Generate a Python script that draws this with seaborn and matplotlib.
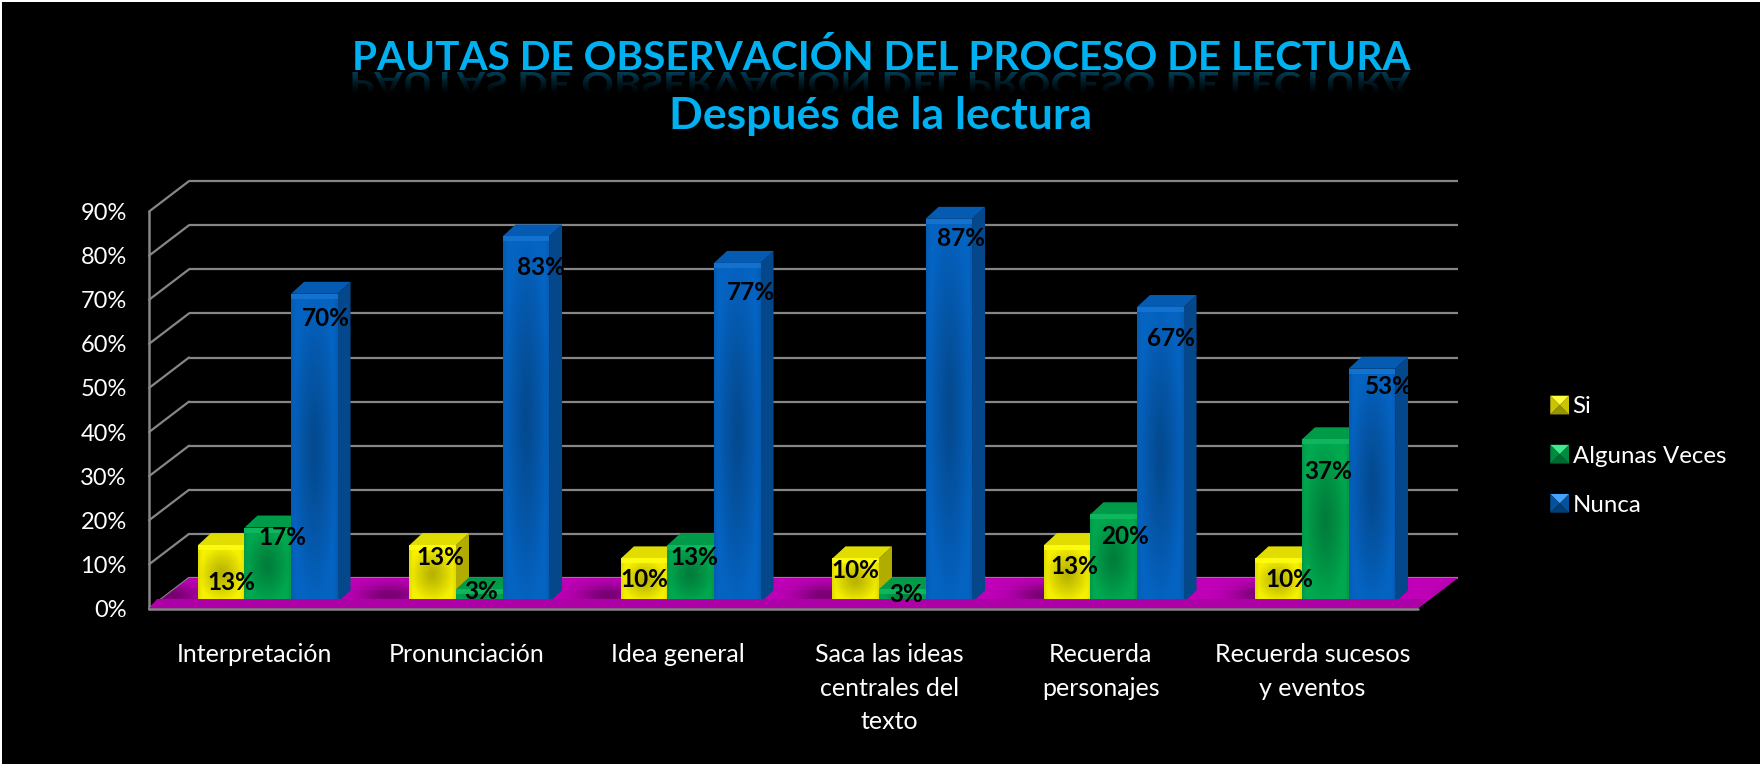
import numpy as np
import pandas as pd
import matplotlib
matplotlib.use("Agg")
import matplotlib.pyplot as plt
import seaborn as sns
from matplotlib.patches import Polygon, PathPatch
from matplotlib.transforms import Affine2D, IdentityTransform
from matplotlib.textpath import TextPath
from matplotlib.font_manager import FontProperties
from matplotlib.legend_handler import HandlerBase
from matplotlib.colors import to_rgb

categories = ["Interpretación", "Pronunciación", "Idea general",
              "Saca las ideas\ncentrales del\ntexto", "Recuerda\npersonajes",
              "Recuerda sucesos\ny eventos"]
si = [13, 13, 10, 10, 13, 10]
algunas = [17, 3, 13, 3, 20, 37]
nunca = [70, 83, 77, 87, 67, 53]
series_names = ["Si", "Algunas Veces", "Nunca"]
y_ticks = [0, 10, 20, 30, 40, 50, 60, 70, 80, 90]
title_1 = "PAUTAS DE OBSERVACIÓN DEL PROCESO DE LECTURA"
title_2 = "Después de la lectura"

COLORS = ["#F6F000", "#00A84F", "#0563C1"]
GRID = "#868686"
FLOOR = "#C000B8"
TITLE = "#00B0F0"
W, H = 1760, 764

df = pd.DataFrame({"cat": np.repeat(categories, 3),
                   "serie": series_names * 6,
                   "v": np.ravel(np.column_stack([si, algunas, nunca]))})

sns.set_theme(style="dark", rc={"figure.facecolor": "black", "axes.facecolor": "none"})
plt.rcParams["font.family"] = ["Lato", "DejaVu Sans"]

fig = plt.figure(figsize=(W / 100, H / 100), dpi=100, facecolor="black")
BASE = 602.5
SCALE = 4.41
LEFT, RIGHT = 162, 1431
ax = fig.add_axes([LEFT / W, 1 - BASE / H, (RIGHT - LEFT) / W, 90 * SCALE / H])
sns.barplot(data=df, x="cat", y="v", hue="serie", hue_order=series_names,
            order=categories, palette=COLORS, width=0.66, gap=0, dodge=True,
            saturation=1, legend=False, ax=ax, errorbar=None)
ax.set_xlim(-0.5, 5.5)
ax.set_ylim(0, 90)
ax.set_autoscale_on(False)
ax.patch.set_visible(False)
for s in ax.spines.values():
    s.set_visible(False)
ax.grid(False)
ax.set_xlabel("")
ax.set_ylabel("")

FRONT = (-13, -6)     # px offset (x right, y up)
BACK = (27, 24.5)
DEPTH = (13, 12)
SINK = 3.5            # the floor's front strip hides this much of each bar's foot


def gradient(poly, arr, z):
    """Fill a display-space polygon with an RGB(A) array, clipped to it."""
    p = np.asarray(poly)
    x0, y0 = p.min(axis=0)
    x1, y1 = p.max(axis=0)
    im = ax.imshow(arr, extent=(x0, x1, y0, y1), origin="lower", aspect="auto",
                   transform=IdentityTransform(), zorder=z, interpolation="bilinear")
    clip = Polygon(p, closed=True, transform=IdentityTransform())
    im.set_clip_box(fig.bbox)
    im.set_clip_path(clip)
    return im


def shade(n, color, mn=0.74):
    """Bevelled fill: bright edges, darker core."""
    h, w = n
    yy, xx = np.mgrid[-1:1:h * 1j, -1:1:w * 1j]
    r = np.clip(np.sqrt(xx ** 2 + yy ** 2), 0, 1)
    f = mn + (1 - mn) * r ** 1.2
    edge = np.clip((np.abs(xx) - 0.88) / 0.12, 0, 1)
    arr = np.ones((h, w, 3)) * np.array(to_rgb(color))
    arr = arr * f[..., None]
    arr = arr * (1 - 0.08 * edge[..., None])
    return np.clip(arr, 0, 1)


def disp(x, y, off=(0, 0)):
    px = ax.transData.transform((x, y))
    return (px[0] + off[0], px[1] + off[1])


# floor
fl = [disp(-0.5, 0, FRONT), disp(5.5, 0, FRONT), disp(5.5, 0, BACK), disp(-0.5, 0, BACK)]
fh, fw = 40, 1300
u = np.linspace(-0.5, 5.5, fw)
dist = ((u + 0.40 + 0.5) % 1.0) - 0.5
v_ = np.linspace(0, 1, fh)[:, None]
f = 1 - 0.38 * np.exp(-(dist / 0.13) ** 2)[None, :] * np.exp(-((v_ - 0.45) / 0.35) ** 2)
floor_arr = np.ones((fh, fw, 3)) * np.array(to_rgb(FLOOR)) * f[..., None]
gradient(fl, np.clip(floor_arr, 0, 1), 1.5)

# grid and walls
for t in y_ticks:
    a, b = disp(-0.5, t, BACK), disp(5.5, t, BACK)
    c = disp(-0.5, t, FRONT)
    ax.plot([a[0], b[0]], [a[1], b[1]], transform=IdentityTransform(), color=GRID,
            lw=1.6, clip_on=False, zorder=1, solid_capstyle="butt")
    ax.plot([c[0], a[0]], [c[1], a[1]], transform=IdentityTransform(), color=GRID,
            lw=1.6, clip_on=False, zorder=1, solid_capstyle="round")
p, q = disp(-0.5, 0, FRONT), disp(-0.5, 90, FRONT)
ax.plot([p[0], q[0]], [p[1], q[1]], transform=IdentityTransform(), color=GRID, lw=1.8,
        clip_on=False, zorder=1)
r = disp(5.5, 0, FRONT)
ax.plot([p[0], r[0]], [p[1], r[1]], transform=IdentityTransform(), color=GRID, lw=1.8,
        clip_on=False, zorder=9)

# 3-D faces on seaborn's bars
for i, (cont, col) in enumerate(zip(ax.containers, COLORS)):
    z = 3 + i
    rgb = np.array(to_rgb(col))
    for bar in cont:
        x0, x1 = bar.get_x(), bar.get_x() + bar.get_width()
        y1 = bar.get_height()
        a, b = disp(x0, 0), disp(x1, 0)
        c, d = disp(x1, y1), disp(x0, y1)
        bar.set_zorder(z)
        bar.set_linewidth(0)
        side = [b, c, (c[0] + DEPTH[0], c[1] + DEPTH[1]), (b[0] + DEPTH[0], b[1] + DEPTH[1])]
        top = [d, c, (c[0] + DEPTH[0], c[1] + DEPTH[1]), (d[0] + DEPTH[0], d[1] + DEPTH[1])]
        ax.add_patch(Polygon(side, closed=True, fc=rgb * 0.72, ec="none", clip_on=False,
                             transform=IdentityTransform(), zorder=z))
        ax.add_patch(Polygon(top, closed=True, fc=rgb * 0.92, ec="none", clip_on=False,
                             transform=IdentityTransform(), zorder=z))
        gh = max(int(c[1] - b[1]) // 2, 4)
        gradient([a, b, c, d], shade((gh, 24), col), z + 0.1)
        ax.add_patch(Polygon([d, c, (c[0], c[1] - 5), (d[0], d[1] - 5)], closed=True,
                             fc=np.clip(rgb + 0.08, 0, 1), ec="none", alpha=0.75,
                             transform=IdentityTransform(), zorder=z + 0.2))

# front strip of the floor, in front of the bars' feet
strip = [disp(-0.5, 0, FRONT), disp(5.5, 0, FRONT),
         disp(5.5, 0, (FRONT[0] + 8, SINK)), disp(-0.5, 0, (FRONT[0] + 8, SINK))]
ax.add_patch(Polygon(strip, closed=True, fc=np.array(to_rgb(FLOOR)) * 0.9, ec="none",
                     clip_on=False, transform=IdentityTransform(), zorder=8))

# data labels (hand-placed in the source chart): dx, dy in px from each bar's top centre
offsets = [
    [(10, 41), (8, 16), (0.4, 25), (0, 16), (7, 25), (11, 25)],
    [(14.5, 13.6), (2, 6), (4, 16), (3.5, 9), (11, 25.7), (3, 35.6)],
    [(11.6, 28.5), (14.7, 35), (13.4, 32.6), (12, 22.7), (10.7, 34.5), (17, 21.7)],
]
for i, cont in enumerate(ax.containers):
    for j, bar in enumerate(cont):
        dx, dy = offsets[i][j]
        ax.annotate(f"{bar.get_height():.0f}%",
                    xy=(bar.get_x() + bar.get_width() / 2, bar.get_height()),
                    xytext=(dx, -dy + SINK), textcoords="offset pixels", ha="center",
                    va="center", fontsize=17.5, fontweight="bold", color="black", zorder=30,
                    annotation_clip=False)

# ticks
ax.set_yticks(y_ticks)
ax.set_yticklabels([f"{t}%" for t in y_ticks])
ax.tick_params(axis="both", length=0, colors="white")
ax.tick_params(axis="y", pad=16, labelsize=17)
ax.tick_params(axis="x", pad=29, labelsize=18)
for l in ax.get_yticklabels():
    l.set_transform(l.get_transform() + Affine2D().translate(FRONT[0], FRONT[1]))
for l in ax.get_xticklabels():
    l.set_transform(l.get_transform() + Affine2D().translate(FRONT[0], 0))
    l.set_linespacing(1.57)
    l.set_ha("center")


# legend
class Bevel(HandlerBase):
    def create_artists(self, legend, orig, xd, yd, w, h, fs, trans):
        col = np.array(to_rgb(orig.get_facecolor()))
        s = 13.5
        x0, y0 = w - s, (h - s) / 2
        cx, cy = x0 + s / 2, y0 + s / 2
        pts = [(x0, y0), (x0 + s, y0), (x0 + s, y0 + s), (x0, y0 + s)]
        fac = [0.62, 0.82, np.nan, 0.82]
        out = []
        for k in range(4):
            c_ = np.clip(col + 0.25, 0, 1) if k == 2 else col * fac[k]
            out.append(Polygon([pts[k], pts[(k + 1) % 4], (cx, cy)], closed=True, fc=c_,
                               ec="none", transform=trans))
        return out


handles = [plt.Rectangle((0, 0), 1, 1, fc=c) for c in COLORS]
leg = ax.legend(handles, series_names, frameon=False, loc="upper left",
                bbox_to_anchor=(1545 / W, 1 - 396.5 / H), bbox_transform=fig.transFigure,
                handler_map={plt.Rectangle: Bevel()}, handlelength=1.0, handletextpad=0.15,
                labelspacing=1.17, borderpad=0, borderaxespad=0, fontsize=17.3,
                labelcolor="white")
leg.set_zorder(40)

# titles
fig.text(881 / W, 1 - 70 / H, title_1, ha="center", va="baseline", color=TITLE,
         fontsize=29.2, fontweight="bold", zorder=50)
fig.text(881 / W, 1 - 129 / H, title_2, ha="center", va="baseline", color=TITLE,
         fontsize=32, fontweight="bold", zorder=50)

# title reflection (decorative)
fp = FontProperties(family="Lato", weight="bold", size=29.2 * 100 / 72)
tp = TextPath((0, 0), title_1, prop=fp)
ext = tp.get_extents()
tr = (Affine2D().translate(-(ext.x0 + ext.x1) / 2, 0).scale(1, -0.8)
      .translate(881, H - 72))
tr_patch = PathPatch(tp, transform=tr, fc="none", ec="none")
fig.add_artist(tr_patch)
g = np.zeros((30, 4, 4))
g[..., :3] = to_rgb(TITLE)
g[..., 3] = np.linspace(0, 0.45, 30)[:, None] ** 1.3
rim = ax.imshow(g, extent=(300, 1460, H - 95, H - 72), origin="lower", aspect="auto",
                transform=IdentityTransform(), zorder=49)
rim.set_clip_box(fig.bbox)
rim.set_clip_path(tr_patch)

fig.add_artist(plt.Rectangle((0, 1 - 2 / H), 1, 2 / H, transform=fig.transFigure,
                             fc="white", ec="none"))
fig.add_artist(plt.Rectangle((0, 0), 2 / W, 1, transform=fig.transFigure,
                             fc="white", ec="none"))
ax.set_xlim(-0.5, 5.5)
ax.set_ylim(0, 90)
fig.savefig("out.png", dpi=100, facecolor="black")
